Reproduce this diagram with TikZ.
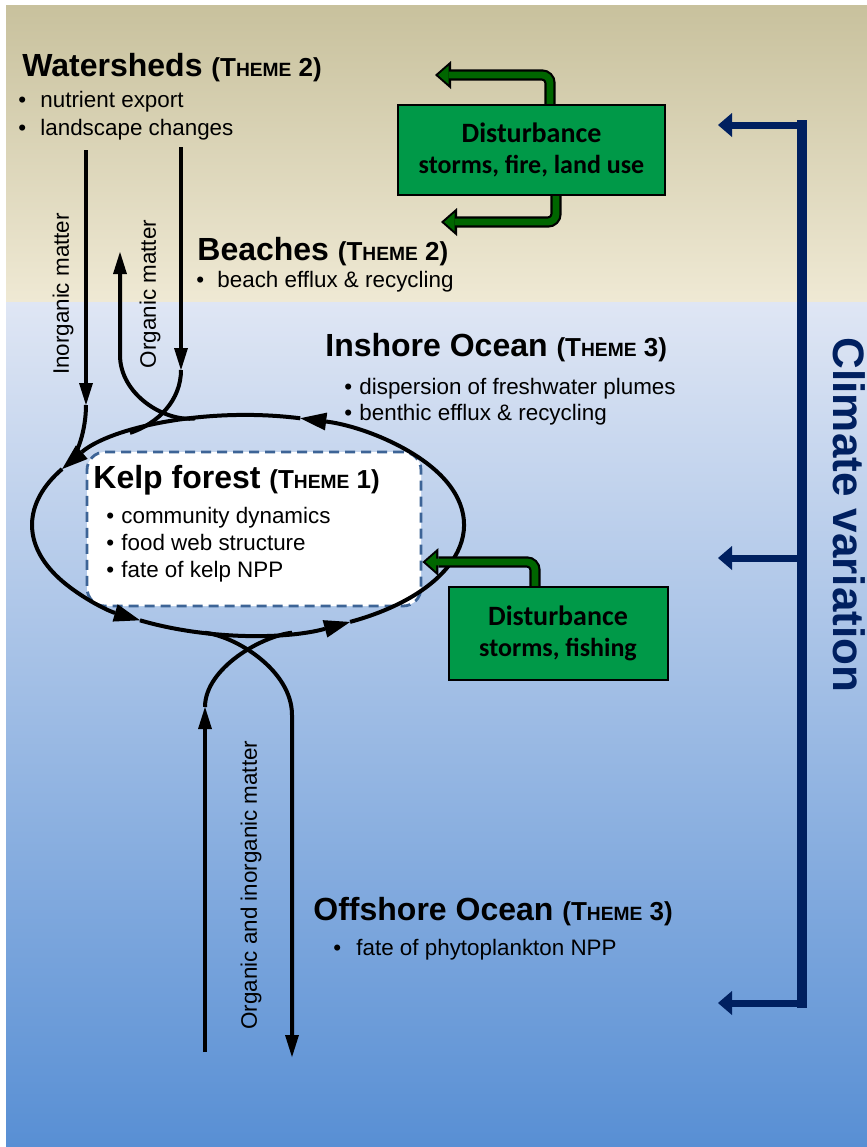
\documentclass[tikz,border=0pt]{standalone}
\usepackage{fontspec}
\setmainfont{Liberation Sans}
\newfontfamily\calibri{Carlito}
\usetikzlibrary{arrows.meta,calc}

\definecolor{sandtop}{RGB}{200,193,157}
\definecolor{sandbot}{RGB}{239,233,212}
\definecolor{seatop}{RGB}{223,230,244}
\definecolor{seabot}{RGB}{88,143,212}
\definecolor{boxgreen}{RGB}{0,153,72}
\definecolor{arrowgreen}{RGB}{0,102,0}
\definecolor{climatenavy}{RGB}{0,32,96}
\definecolor{dashblue}{RGB}{61,100,150}

\newcommand{\themetag}[1]{{\fontsize{13}{15}\selectfont(T{\fontsize{9.6}{11}\selectfont HEME}~#1)}}

\begin{document}
\begin{tikzpicture}[x=0.5pt, y=-0.5pt,
    title/.style={anchor=base west, inner sep=0pt, font=\fontsize{16}{19}\selectfont\bfseries},
    item/.style={anchor=base west, inner sep=0pt, font=\fontsize{11.2}{13}\selectfont},
    sidelabel/.style={inner sep=0pt, font=\fontsize{11.2}{13}\selectfont, rotate=90},
    flow/.style={line width=2pt, -{Triangle[length=11pt,width=7pt,line width=0pt]}},
    flowline/.style={line width=2pt},
    loopflow/.style={line width=2pt, -{Triangle[length=13pt,width=9pt,line width=0pt]}},
    disturbbox/.style={draw=black, line width=1pt, fill=boxgreen, align=center, inner sep=0pt,
        font=\calibri\bfseries\fontsize{13}{15.5}\selectfont},
    kelpbox/.style={draw=dashblue, fill=white, line width=1.4pt, dash pattern=on 5pt off 3pt,
        rounded corners=9pt, minimum width=167pt, minimum height=77pt, inner sep=0pt},
    greenarrow/.style={draw=arrowgreen, line width=3.4pt, rounded corners=4pt, shorten >=1.6pt,
        -{Triangle[length=5.2pt,width=9.2pt,line width=0pt]},
        preaction={draw=black, line width=5.6pt, shorten >=0pt, -{Triangle[length=8pt,width=14pt,line width=0pt]}}},
    climate/.style={draw=climatenavy, line width=3.5pt, -{Triangle[length=7pt,width=12pt,line width=0pt]}}]

    \useasboundingbox (0,0) rectangle (867,1147);
    \fill[white] (0,0) rectangle (867,1147);
    \shade[top color=sandtop, bottom color=sandbot] (6,5) rectangle (867,302);
    \shade[top color=seatop, bottom color=seabot] (6,302) rectangle (867,1147);

    \coordinate (cv-top) at (802,125);
    \coordinate (cv-mid) at (802,558);
    \coordinate (cv-bot) at (802,1003);
    \coordinate (cv-top-tip) at (718,125);
    \coordinate (cv-mid-tip) at (718,558);
    \coordinate (cv-bot-tip) at (718,1003);
    \draw[climatenavy, line width=5pt] ($(cv-top)+(0,-5)$) -- ($(cv-bot)+(0,5)$);
    \draw[climate] (cv-top) -- (cv-top-tip);
    \draw[climate] (cv-mid) -- (cv-mid-tip);
    \draw[climate] (cv-bot) -- (cv-bot-tip);
    \node[rotate=-90, inner sep=0pt, text=climatenavy, font=\fontsize{22}{26}\selectfont\bfseries] (cv-label) at (849,515) {Climate variation};

    \node[kelpbox] (kelp) at (254,529) {};

    \coordinate (ell-br) at (350.1,621.9);
    \coordinate (ell-top) at (300.3,418.3);
    \coordinate (ell-ul) at (62.1,469.0);
    \coordinate (ell-bl) at (140,620.3);
    \draw[loopflow] (ell-br) arc[start angle=61.8, end angle=-76, x radius=216, y radius=110];
    \draw[loopflow] (ell-top) arc[start angle=-76, end angle=-149.4, x radius=216, y radius=110];
    \draw[loopflow] (ell-ul) arc[start angle=210.6, end angle=120, x radius=216, y radius=110];
    \draw[loopflow] (ell-bl) arc[start angle=120, end angle=61.8, x radius=216, y radius=110];

    \coordinate (ws-inorg) at (86,150);
    \coordinate (inorg-mid) at (86,405);
    \draw[flow] (ws-inorg) -- (inorg-mid);
    \draw[flowline, shorten >=4pt] (inorg-mid) .. controls +(0,25) and +(15.2,-13) .. (ell-ul);

    \coordinate (ws-org) at (181,147);
    \coordinate (org-in) at (181,370);
    \coordinate (ell-orgin) at (130,432.9);
    \draw[flow] (ws-org) -- (org-in);
    \draw[flowline] (org-in) .. controls +(0,30) and +(28.5,-9.5) .. (ell-orgin);

    \coordinate (ell-orgout) at (195,418.4);
    \coordinate (org-up) at (120,355);
    \coordinate (beach-org) at (120,252);
    \draw[flow] (ell-orgout) .. controls +(-29.8,3.8) and +(0,40) .. (org-up) -- (beach-org);

    \coordinate (off-in) at (205,1052);
    \coordinate (off-in-top) at (205,707);
    \coordinate (ell-offin) at (292,632.7);
    \draw[flow] (off-in) -- (off-in-top);
    \draw[flowline] (off-in-top) .. controls +(0,-39) and +(-29.8,3.2) .. (ell-offin);

    \coordinate (ell-offout) at (205,632.8);
    \coordinate (off-out-top) at (292,715);
    \coordinate (off-out) at (292,1057);
    \draw[flow] (ell-offout) .. controls +(29.9,3.1) and +(0,-45) .. (off-out-top) -- (off-out);

    \coordinate (land-up) at (435,75);
    \coordinate (land-down) at (441,222);
    \draw[greenarrow] (550,105) |- (land-up);
    \draw[greenarrow] (556,195) |- (land-down);
    \draw[greenarrow] (535,588) |- ($(kelp.east)+(0,33)$);

    \node[disturbbox, minimum width=133.5pt, minimum height=45pt] (dist-land) at (531.5,150)
        {{\fontsize{14}{15.5}\selectfont Disturbance}\\storms, fire, land use};
    \node[disturbbox, minimum width=109.5pt, minimum height=46.5pt] (dist-sea) at (558,633.5)
        {{\fontsize{14}{15.5}\selectfont Disturbance}\\storms, fishing};

    \node[title] (ws-title) at (22,76) {Watersheds \themetag{2}};
    \node[item] (ws-item1) at (18,107) {\makebox[11pt][l]{•}nutrient export};
    \node[item] (ws-item2) at (18,135) {\makebox[11pt][l]{•}landscape changes};

    \node[title] (bch-title) at (197,260) {Beaches \themetag{2}};
    \node[item] (bch-item1) at (196,287) {\makebox[10.5pt][l]{•}beach efflux \& recycling};

    \node[title] (in-title) at (325,356) {Inshore Ocean \themetag{3}};
    \node[item] (in-item1) at (344,394) {\makebox[7.5pt][l]{•}dispersion of freshwater plumes};
    \node[item] (in-item2) at (344,420) {\makebox[7.5pt][l]{•}benthic efflux \& recycling};

    \node[title] (kelp-title) at (93,488) {Kelp forest \themetag{1}};
    \node[item] (kelp-item1) at (106,523) {\makebox[7.5pt][l]{•}community dynamics};
    \node[item] (kelp-item2) at (106,550) {\makebox[7.5pt][l]{•}food web structure};
    \node[item] (kelp-item3) at (106,577) {\makebox[7.5pt][l]{•}fate of kelp NPP};

    \node[title] (off-title) at (313,920) {Offshore Ocean \themetag{3}};
    \node[item] (off-item1) at (333,955) {\makebox[11.5pt][l]{•}fate of phytoplankton NPP};

    \node[sidelabel] (inorg-label) at (63,294) {Inorganic matter};
    \node[sidelabel] (org-label) at (150,294) {Organic matter};
    \node[sidelabel] (mix-label) at (251,885) {Organic and inorganic matter};
\end{tikzpicture}
\end{document}
